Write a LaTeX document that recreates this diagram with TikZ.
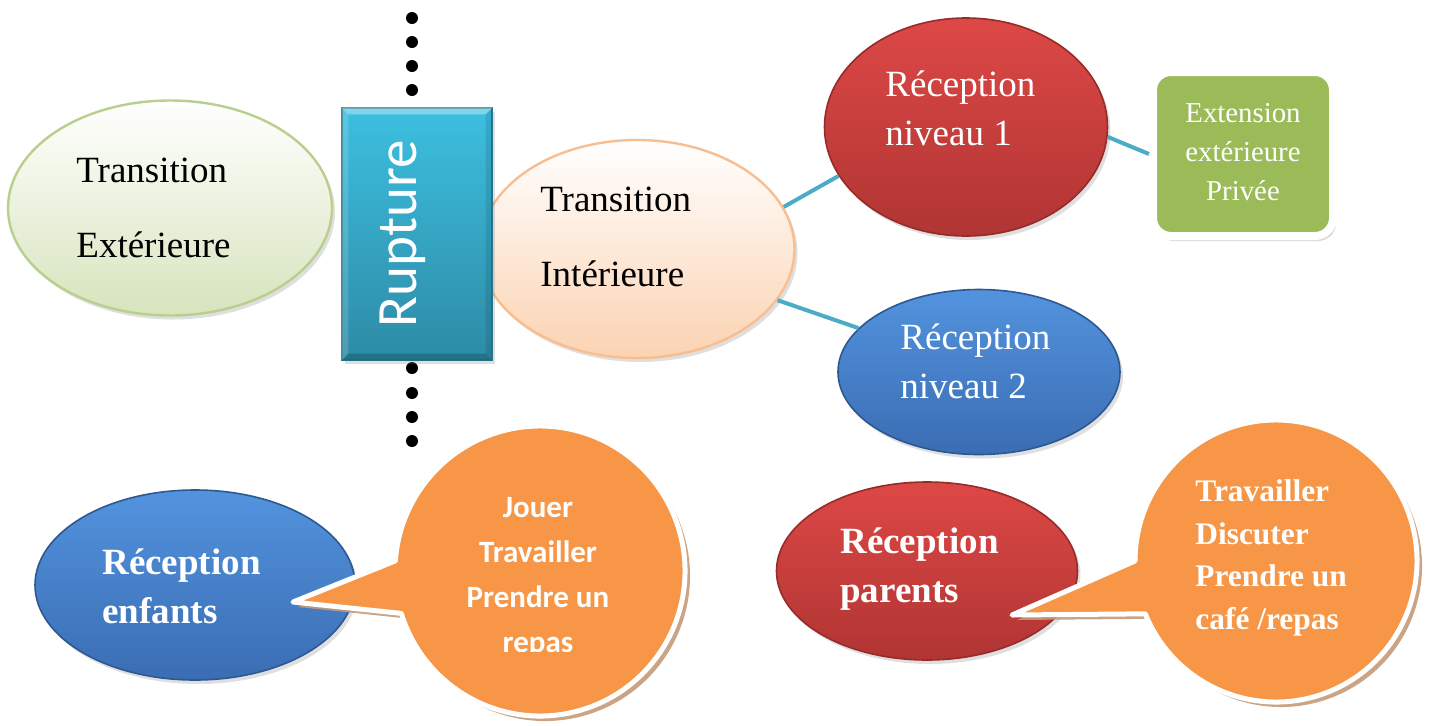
\documentclass[tikz,border=0pt]{standalone}
\usepackage{fontspec}
\setmainfont{Liberation Serif}
\newfontfamily\calib{Carlito}
\usetikzlibrary{shapes.geometric,shadows}
\definecolor{greenL}{HTML}{D7E4BD}
\definecolor{greenB}{HTML}{B9CF8E}
\definecolor{peachL}{HTML}{FBD3B2}
\definecolor{peachB}{HTML}{F8BE90}
\definecolor{ruptT}{HTML}{3DBFE0}
\definecolor{ruptB}{HTML}{2D8BA6}
\definecolor{ruptD}{HTML}{2A7F98}
\definecolor{redT}{HTML}{DD4846}
\definecolor{redB}{HTML}{B03533}
\definecolor{redD}{HTML}{962B29}
\definecolor{blueT}{HTML}{5393DE}
\definecolor{blueB}{HTML}{3A6DB3}
\definecolor{blueD}{HTML}{2D5890}
\definecolor{extG}{HTML}{9BBB59}
\definecolor{orangeF}{HTML}{F79646}
\definecolor{bubShadow}{HTML}{C49A78}
\definecolor{linkC}{HTML}{4BACC6}
\begin{document}
\begin{tikzpicture}[x=0.5pt,y=-0.5pt,
  ell/.style={ellipse, inner sep=0pt, line width=0.8pt},
  softshadow/.style={drop shadow={opacity=0.25, shadow xshift=1.5pt, shadow yshift=-2pt}},
  lbl/.style={font=\fontsize{18.5}{37.5}\selectfont, align=left, anchor=west, inner sep=0pt},
  wlbl/.style={font=\fontsize{18.5}{24.5}\selectfont, align=left, anchor=west, inner sep=0pt, text=white},
  wbold/.style={wlbl, font=\fontsize{18.5}{24.5}\selectfont\bfseries},
  link/.style={draw=linkC, line width=2pt},
  dotnode/.style={circle, fill=black, minimum size=6pt, inner sep=0pt},
  bubble/.style={fill=orangeF, draw=white, line width=2.5pt, line join=round,
    drop shadow={shadow xshift=2.5pt, shadow yshift=-2.5pt, fill=bubShadow, opacity=0.9}},
]
\useasboundingbox (0,0) rectangle (1431,725);

% dotted separator
\foreach \i/\yy in {1/18,2/42,3/66,4/90,5/368,6/393,7/417,8/441}
  \node[dotnode] (dot\i) at (412,\yy) {};

% top row
\node[ell, softshadow, minimum width=162pt, minimum height=107.5pt,
      top color=white, bottom color=greenL, draw=greenB, line width=1.2pt] (tex) at (170,208) {};
\node[lbl] (texl) at (76,208) {Transition\\Extérieure};

\node[ell, softshadow, minimum width=157.5pt, minimum height=109pt,
      top color=white, bottom color=peachL, draw=peachB, line width=1.2pt] (tin) at (637,249) {};
\node[lbl] (tinl) at (540,237) {Transition\\Intérieure};

\node[rectangle, softshadow, minimum width=75pt, minimum height=126pt, inner sep=0pt,
      top color=ruptT, bottom color=ruptB, draw=ruptD, line width=0.6pt] (rup) at (417,234) {};
\fill[white, opacity=0.35] (rup.north west) -- (rup.north east) -- ([shift={(-7,7)}]rup.north east) -- ([shift={(7,7)}]rup.north west) -- cycle;
\fill[white, opacity=0.15] (rup.north west) -- ([shift={(7,7)}]rup.north west) -- ([shift={(7,-7)}]rup.south west) -- (rup.south west) -- cycle;
\fill[black, opacity=0.18] (rup.south west) -- (rup.south east) -- ([shift={(-7,-7)}]rup.south east) -- ([shift={(7,-7)}]rup.south west) -- cycle;
\fill[black, opacity=0.10] (rup.north east) -- ([shift={(-7,7)}]rup.north east) -- ([shift={(-7,-7)}]rup.south east) -- (rup.south east) -- cycle;
\node[rotate=90, text=white, font=\calib\fontsize{28.5}{30}\selectfont, inner sep=0pt] (rupl) at (403,234) {Rupture};

\node[ell, softshadow, minimum width=141.5pt, minimum height=109pt,
      top color=redT, bottom color=redB, draw=redD] (r1) at (966,127) {};
\node[wlbl] (r1l) at (885,108) {Réception\\niveau 1};

\node[ell, softshadow, minimum width=141pt, minimum height=82.5pt,
      top color=blueT, bottom color=blueB, draw=blueD] (r2) at (979,372) {};
\node[wlbl] (r2l) at (900,361) {Réception\\niveau 2};

\node[rectangle, rounded corners=9pt, minimum width=90pt, minimum height=82pt, inner sep=0pt,
      fill=extG, draw=white, line width=4pt,
      drop shadow={opacity=0.3, shadow xshift=1.5pt, shadow yshift=-2.5pt}] (ext) at (1243,154) {};
\node[text=white, align=center, font=\fontsize{14.4}{19.5}\selectfont, inner sep=0pt] (extl) at (1243,152)
  {Extension\\extérieure\\Privée};

% connectors
\draw[link] (tin.16) -- (r1.201);
\draw[link] (tin.340) -- (r2.160);
\draw[link] (r1.356) -- (ext.west);

% bottom row
\node[ell, softshadow, minimum width=160pt, minimum height=95pt,
      top color=blueT, bottom color=blueB, draw=blueD] (enf) at (195,585) {};
\node[wbold] (enfl) at (102,586) {Réception\\enfants};

\coordinate (b1c) at (540,571);
\coordinate (b1tip) at (293,602);
\path[bubble] (b1c) ++(184:145) -- (b1tip) -- ([shift={(163:145)}]b1c)
   arc[start angle=163, end angle=-176, radius=145] -- cycle;
\begin{scope}
\clip (380,470) rectangle (700,651);
\node[text=white, align=center, font=\calib\bfseries\fontsize{15.5}{22.5}\selectfont, inner sep=0pt] (b1l) at (538,577)
  {Jouer\\Travailler\\Prendre un\\repas};
\end{scope}

\node[ell, softshadow, minimum width=150.5pt, minimum height=89pt,
      top color=redT, bottom color=redB, draw=redD] (par) at (927,571) {};
\node[wbold] (parl) at (840,569) {Réception\\parents};

\coordinate (b2c) at (1276,561);
\coordinate (b2tip) at (1012,615);
\path[bubble] (b2c) ++(180:141) -- (b2tip) -- ([shift={(158:141)}]b2c)
   arc[start angle=158, end angle=-180, radius=141] -- cycle;
\node[text=white, align=left, anchor=west, font=\bfseries\fontsize{15.7}{21.25}\selectfont, inner sep=0pt] (b2l) at (1195,558)
  {Travailler\\Discuter\\Prendre un\\café /repas};

\end{tikzpicture}
\end{document}
